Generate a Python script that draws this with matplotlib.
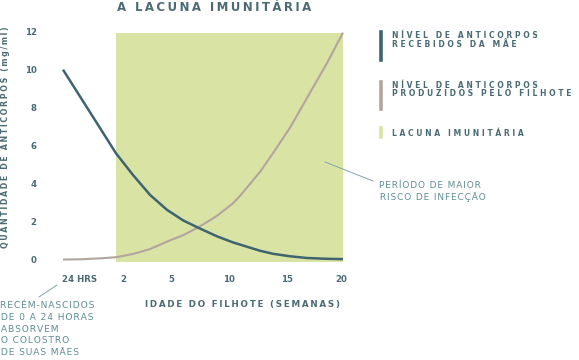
import matplotlib.pyplot as plt
from matplotlib.patches import Rectangle

# posição ao longo do eixo x (0 = início da curva, 100 = 20 semanas)
pos_mae = [0, 11.4, 18.9, 25, 31.1, 37.1, 42.9, 48.2, 55, 60.7, 70.4, 75, 81.1, 87.1, 93.6, 100]
anticorpos_mae = [10, 7.35, 5.6, 4.45, 3.4, 2.62, 2.06, 1.68, 1.22, 0.9, 0.46, 0.3, 0.17, 0.08, 0.04, 0.02]

pos_filhote = [0, 6.1, 13.2, 18.9, 25, 31.1, 37.1, 42.9, 48.2, 55, 60.7, 63.2, 70.4, 75, 81.1, 87.1, 94.3, 100]
anticorpos_filhote = [0, 0.01, 0.06, 0.12, 0.29, 0.55, 0.94, 1.28, 1.68, 2.3, 2.96, 3.35, 4.62, 5.6, 6.95, 8.5, 10.35, 11.95]

lacuna = (18.9, 99.9)  # intervalo da lacuna imunitária

x_ticks = [5.9, 21.5, 38.8, 59.4, 80.1, 99.5]
x_labels = ['24 HRS', '2', '5', '10', '15', '20']
y_ticks = [0, 2, 4, 6, 8, 10, 12]

TEXTO = '#4b6b74'
ANOT = '#5e8d94'
MAE = '#3e6470'
FILHOTE = '#b2a59e'
VERDE = '#d9e4a4'

W, H = 579, 360


def px(x, y):
    return x / W, 1 - y / H


def spaced(s, sep='\u2009'):
    return sep.join(s)


def wide(s):
    # espaçamento largo entre letras, como na legenda original
    return '   '.join(' '.join(p) for p in s.split(' '))


fig = plt.figure(figsize=(W / 100, H / 100), dpi=100)
ax = fig.add_axes([63 / W, 1 - 259.5 / H, 280 / W, 227.8 / H])
ax.set_xlim(0, 100)
ax.set_ylim(0, 12)

ax.add_patch(Rectangle((lacuna[0], -0.12), lacuna[1] - lacuna[0], 12.06,
                       color=VERDE, lw=0, zorder=0, clip_on=False))
ax.plot(pos_filhote, anticorpos_filhote, color=FILHOTE, lw=1.5, clip_on=False,
        solid_capstyle='butt', solid_joinstyle='round')
ax.plot(pos_mae, anticorpos_mae, color=MAE, lw=1.8, clip_on=False,
        solid_capstyle='butt', solid_joinstyle='round')

for s in ax.spines.values():
    s.set_visible(False)
ax.set_xticks(x_ticks)
ax.set_xticklabels(x_labels)
ax.set_yticks(y_ticks)
ax.tick_params(length=0, colors=TEXTO, labelsize=6.2)
ax.tick_params(axis='y', pad=19)
ax.tick_params(axis='x', pad=11)
for lab in ax.get_xticklabels() + ax.get_yticklabels():
    lab.set_fontweight('bold')

fig.text(*px(214.5, 7.5), spaced('A LACUNA IMUNITÁRIA'), ha='center', va='center',
         fontsize=8.5, fontweight='bold', color=TEXTO)
fig.text(*px(5.5, 137), spaced('QUANTIDADE DE ANTICORPOS (mg/ml)'), rotation=90,
         ha='center', va='center', fontsize=5.7, fontweight='bold', color=TEXTO)
fig.text(*px(242.5, 305), spaced('IDADE DO FILHOTE (SEMANAS)'), ha='center', va='center',
         fontsize=6.3, fontweight='bold', color=TEXTO)

# legenda: cor, extensão da barra, linhas de texto com sua altura
legenda = [
    (MAE, 32, 60, ['NÍVEL DE ANTICORPOS', 'RECEBIDOS DA MÃE'], 36),
    (FILHOTE, 82, 109, ['NÍVEL DE ANTICORPOS', 'PRODUZIDOS PELO FILHOTE'], 85),
    (VERDE, 128, 137, ['LACUNA IMUNITÁRIA'], 133.5),
]
for cor, y0, y1, linhas, ytop in legenda:
    fig.add_artist(plt.Line2D([381 / W, 381 / W], [1 - y0 / H, 1 - y1 / H], color=cor, lw=2.6))
    for i, t in enumerate(linhas):
        fig.text(*px(391.5, ytop + 8.8 * i), wide(t), ha='left', va='center',
                 fontsize=5.5, fontweight='bold', color=TEXTO)

# anotações
fig.text(*px(0, 301.5), spaced('RECÉM-NASCIDOS\nDE 0 A 24 HORAS\nABSORVEM\nO COLOSTRO\nDE SUAS MÃES', '\u200a'),
         ha='left', va='top', fontsize=6.6, color=ANOT, linespacing=1.38)
fig.text(*px(379, 180.5), spaced('PERÍODO DE MAIOR\nRISCO DE INFECÇÃO', '\u200a'),
         ha='left', va='top', fontsize=6.5, color=ANOT, linespacing=1.3)
fig.add_artist(plt.Line2D([39 / W, 57 / W], [1 - 297 / H, 1 - 285 / H], color='#86a3a8', lw=0.7))
fig.add_artist(plt.Line2D([325 / W, 373 / W], [1 - 162 / H, 1 - 181 / H], color='#86a3a8', lw=0.7))

fig.savefig('out.png', dpi=100)
